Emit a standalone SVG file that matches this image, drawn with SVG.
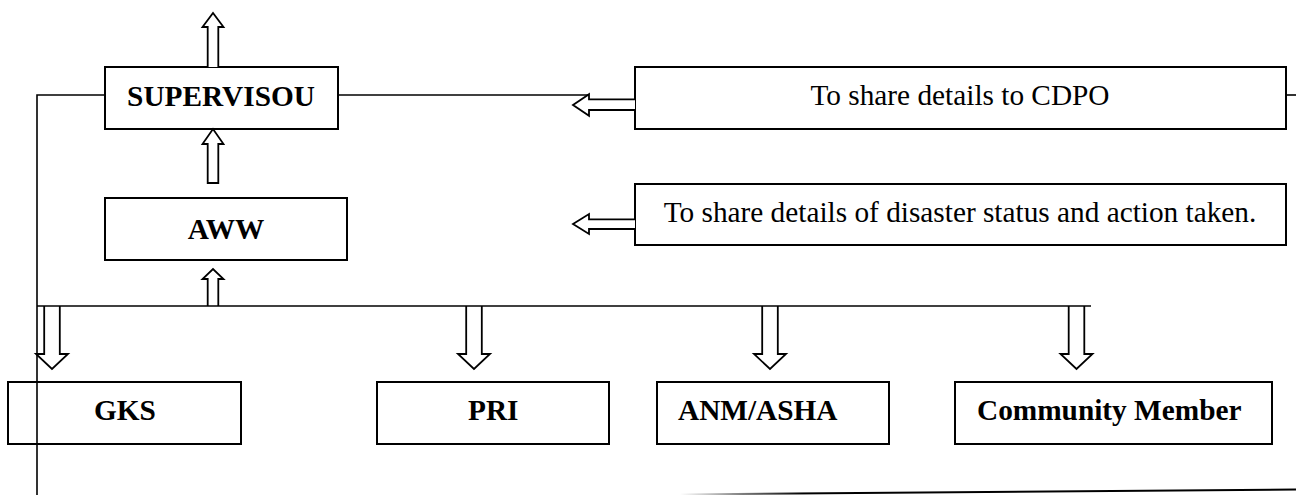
<svg xmlns="http://www.w3.org/2000/svg" width="1296" height="495" viewBox="0 0 1296 495">
<style>
.box{fill:none;stroke:#000;stroke-width:2}
.arr{fill:#fff;stroke:#000;stroke-width:1.8;stroke-linejoin:miter}
.ln{fill:none;stroke:#000;stroke-width:1.6}
.b{font-family:"Liberation Serif","Times New Roman",serif;font-weight:bold;font-size:29.3px;fill:#000}
.r{font-family:"Liberation Serif","Times New Roman",serif;font-size:29.3px;fill:#000}
</style>
<defs>
<linearGradient id="fade" gradientUnits="userSpaceOnUse" x1="680" y1="0" x2="1296" y2="0">
<stop offset="0" stop-color="#fff"/>
<stop offset="0.2" stop-color="#000"/>
<stop offset="1" stop-color="#000"/>
</linearGradient>
</defs>
<rect width="1296" height="495" fill="#fff"/>
<g id="supervisou"><rect class="box" x="105" y="67" width="233" height="62"/><text class="b" x="221" y="106" text-anchor="middle">SUPERVISOU</text></g>
<g id="aww"><rect class="box" x="105" y="198" width="242" height="62"/><text class="b" x="226" y="239" text-anchor="middle">AWW</text></g>
<g id="cdpo"><rect class="box" x="635" y="67" width="651" height="62"/><text class="r" x="960" y="105" text-anchor="middle">To share details to CDPO</text></g>
<g id="status"><rect class="box" x="635" y="184" width="651" height="61"/><text class="r" x="960" y="222" text-anchor="middle">To share details of disaster status and action taken.</text></g>
<g id="gks"><rect class="box" x="8" y="382" width="233" height="62"/><text class="b" x="94" y="420">GKS</text></g>
<g id="pri"><rect class="box" x="377" y="382" width="232" height="62"/><text class="b" x="468" y="420">PRI</text></g>
<g id="anm"><rect class="box" x="657" y="382" width="232" height="62"/><text class="b" x="678" y="420">ANM/ASHA</text></g>
<g id="community"><rect class="box" x="955" y="382" width="317" height="62"/><text class="b" x="977" y="420">Community Member</text></g>
<g id="connectors">
<path class="arr" d="M207.7,67 V27 H202.5 L213,13 L223.5,27 H218.3 V67"/>
<path class="arr" d="M207.7,183 V144 H202.5 L213,129 L223.5,144 H218.3 V183 Z"/>
<path class="arr" d="M207.7,306 V279 H202.5 L213,269 L223.5,279 H218.3 V306"/>
<path class="arr" d="M635,99.3 H589 V94.3 L573,105 L589,115.7 V110 H635"/>
<path class="arr" d="M635,219.3 H589 V214 L573,224 L589,234 V229 H635"/>
<path class="arr" d="M44.2,306 V354 H36 L52,369 L68,354 H59.8 V306"/>
<path class="arr" d="M466.2,306 V354 H458 L474,369 L490,354 H481.8 V306"/>
<path class="arr" d="M762.2,306 V354 H754 L770,369 L786,354 H777.8 V306"/>
<path class="arr" d="M1068.7,306 V354 H1060.5 L1076.5,369 L1092.5,354 H1084.3 V306"/>
<path class="ln" d="M37,495 V95 H105"/>
<path class="ln" d="M338,95 H589"/>
<path class="ln" d="M1286,95 H1296"/>
<path class="ln" d="M37,306 H1091"/>
<path d="M680,494.5 L1296,489.5" fill="none" stroke="url(#fade)" stroke-width="2"/>
</g>
</svg>
